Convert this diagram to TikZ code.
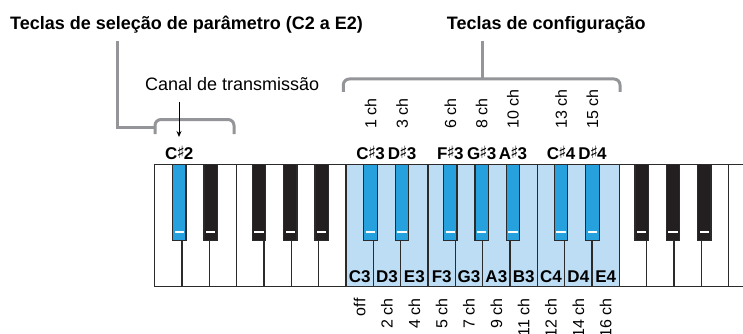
\documentclass[tikz,border=0pt]{standalone}
\usepackage{fontspec}
\setmainfont{Liberation Sans}
\newfontfamily\symfont{DejaVu Sans}
\usetikzlibrary{arrows.meta}
\definecolor{brk}{HTML}{939598}
\definecolor{lblue}{HTML}{BCDDF4}
\definecolor{dblue}{HTML}{27A1DD}
\definecolor{keyline}{HTML}{2B2B2B}
\definecolor{bkfill}{HTML}{231F20}
\newcommand{\shp}{{\symfont\fontsize{17}{17}\selectfont\kern-0.8pt\raisebox{0.6pt}{♯}\kern-0.8pt}}
\begin{document}
\begin{tikzpicture}[x=1pt,y=-1pt,
  title/.style={font=\bfseries\fontsize{18}{18}\selectfont, anchor=base west, inner sep=0},
  canaltext/.style={font=\fontsize{18}{18}\selectfont, anchor=base west, inner sep=0},
  wkey/.style={draw=keyline, line width=1.2pt, minimum width=27.333pt, minimum height=122pt, anchor=north west, inner sep=0, outer sep=0},
  bkey/.style={draw=keyline, line width=1.2pt, minimum width=13.4pt, minimum height=76pt, anchor=north, inner sep=0, outer sep=0},
  klabel/.style={font=\bfseries\fontsize{17}{17}\selectfont, anchor=base, inner sep=0},
  chup/.style={font=\fontsize{16}{16}\selectfont, rotate=90, anchor=west, inner sep=0},
  chdown/.style={font=\fontsize{16}{16}\selectfont, rotate=90, anchor=east, inner sep=0},
  bracket/.style={draw=brk, line width=3pt, rounded corners=6pt},
]
\useasboundingbox (0,0) rectangle (743,334);
\clip (0,0) rectangle (743,334);
\fill[white] (0,0) rectangle (743,334);

% titles
\node[title] (t1) at (10,30) {Teclas de seleção de parâmetro (C2 a E2)};
\node[title] (t2) at (446.7,30) {Teclas de configuração};
\node[canaltext] (canal) at (145,90.7) {Canal de transmissão};

% brackets
\draw[bracket] (155,134) -- (155,119.5) -- (234,119.5) -- (234,134);
\draw[draw=brk, line width=3pt] (117.3,40.7) -- (117.3,127.7) -- (155,127.7);
\draw[bracket] (343.3,92) -- (343.3,79) -- (620,79) -- (620,92);
\draw[draw=brk, line width=3pt] (482.3,40.7) -- (482.3,79);

% white keys
\foreach \i in {0,...,21}{
  \pgfmathsetmacro\xl{154.67+\i*27.333}
  \pgfmathsetmacro\xc{\xl+13.667}
  \ifnum\i>6 \ifnum\i<17 \def\wf{lblue}\else\def\wf{white}\fi \else\def\wf{white}\fi
  \node[wkey, fill=\wf] (w\i) at (\xl,164.7) {};
  \coordinate (wb\i) at (\xc,282.9);
  \coordinate (wc\i) at (\xc,298.3);
}

% black keys
\foreach \k/\off/\nm/\hl in {0/-2.8/Cs2/1, 1/1.4/Ds2/0, 3/-5/Fs2/0, 4/-1/Gs2/0, 5/3/As2/0,
  7/-2.8/Cs3/1, 8/1.4/Ds3/1, 10/-5/Fs3/1, 11/-1/Gs3/1, 12/3/As3/1,
  14/-3.5/Cs4/1, 15/0.5/Ds4/1, 17/-5/Fs4/0, 18/-1/Gs4/0, 19/3/As4/0}{
  \pgfmathsetmacro\cx{154.67+(\k+1)*27.333+\off}
  \ifnum\hl=1 \def\kf{dblue}\else\def\kf{bkfill}\fi
  \node[bkey, fill=\kf] (\nm) at (\cx,164.7) {};
  \fill[white] (\cx-4.7,230.6) rectangle (\cx+4.7,233.2);
  \coordinate (t\nm) at (\cx,159.3);
  \coordinate (c\nm) at (\cx,129);
}

% note labels above black keys
\foreach \nm/\t in {Cs2/C\shp2, Cs3/C\shp3, Ds3/D\shp3, Fs3/F\shp3, Gs3/G\shp3, As3/A\shp3, Cs4/C\shp4, Ds4/D\shp4}{
  \node[klabel] (l\nm) at (t\nm) {\t};
}
% channel labels above
\foreach \nm/\t in {Cs3/1 ch, Ds3/3 ch, Fs3/6 ch, Gs3/8 ch, As3/10 ch, Cs4/13 ch, Ds4/15 ch}{
  \node[chup] (ch\nm) at (c\nm) {\t};
}
% white key labels and channels below
\foreach \i/\t/\c in {7/C3/off, 8/D3/2 ch, 9/E3/4 ch, 10/F3/5 ch, 11/G3/7 ch, 12/A3/9 ch, 13/B3/11 ch, 14/C4/12 ch, 15/D4/14 ch, 16/E4/16 ch}{
  \node[klabel] (lw\i) at (wb\i) {\t};
  \node[chdown] (chw\i) at (wc\i) {\c};
}

% arrow
\coordinate (arrS) at (179,101.7);
\coordinate (arrE) at (179,137);
\draw[-{Stealth[length=6pt,width=5pt]}, line width=0.9pt] (arrS) -- (arrE);
\end{tikzpicture}
\end{document}
